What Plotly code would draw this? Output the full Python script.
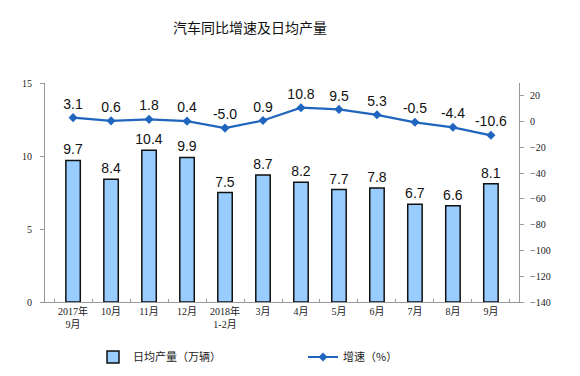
import plotly.graph_objects as go

categories = ["2017年<br>9月", "10月", "11月", "12月", "2018年<br>1-2月", "3月",
              "4月", "5月", "6月", "7月", "8月", "9月"]
daily_output = [9.7, 8.4, 10.4, 9.9, 7.5, 8.7, 8.2, 7.7, 7.8, 6.7, 6.6, 8.1]
growth = [3.1, 0.6, 1.8, 0.4, -5.0, 0.9, 10.8, 9.5, 5.3, -0.5, -4.4, -10.6]

tick_font = dict(family="Liberation Serif, Noto Sans CJK SC", size=10, color="#222")
label_font = dict(family="Arial, Liberation Sans", size=14, color="#111")

# page has an 8px body offset; figure drawn from (8,8)
OFF = 8
W, H = 580 - OFF, 376 - OFF
L, R, T, B = 45 - OFF, 61, 83 - OFF, 74
plot_w = W - L - R
plot_h = H - T - B

fig = go.Figure()
fig.add_trace(go.Bar(
    x=categories, y=daily_output, name="日均产量（万辆）",
    marker=dict(color="#99CCFF", line=dict(color="#111", width=1.5)),
    width=0.38,
    text=[f"{v:.1f}" for v in daily_output], textposition="outside",
    textfont=label_font, cliponaxis=False, constraintext="none",
))
fig.add_trace(go.Scatter(
    x=categories, y=growth, name="增速（%）", yaxis="y2",
    mode="lines+markers+text",
    line=dict(color="#2066BE", width=2.2),
    marker=dict(symbol="diamond", size=7, color="#2066BE"),
    text=[f"{v:.1f}" for v in growth], textposition="top center",
    textfont=label_font, cliponaxis=False,
))

fig.update_layout(
    width=W, height=H,
    margin=dict(l=L, r=R, t=T, b=B, autoexpand=False),
    plot_bgcolor="white", paper_bgcolor="white",
    showlegend=True,
    legend=dict(orientation="h", x=(93 - 45) / plot_w, xanchor="left",
                y=-55 / plot_h, yanchor="middle",
                font=dict(family="Noto Sans CJK SC", size=11, color="#222"),
                entrywidth=165, entrywidthmode="pixels", traceorder="normal"),
    xaxis=dict(
        showline=True, linecolor="#999", linewidth=1,
        ticks="inside", tickson="boundaries", ticklen=3, tickcolor="#999",
        tickfont=tick_font, showgrid=False, tickangle=0, automargin=False,
    ),
    yaxis=dict(
        range=[0, 15], tickvals=[0, 5, 10, 15],
        showline=True, linecolor="#999", linewidth=1,
        ticks="outside", ticklen=4, tickcolor="#999",
        tickfont=tick_font, showgrid=False, zeroline=False,
        ticklabelstandoff=6, automargin=False,
    ),
    yaxis2=dict(
        range=[-140, 30], tickvals=list(range(-140, 21, 20)),
        overlaying="y", side="right",
        showline=True, linecolor="#999", linewidth=1,
        ticks="outside", ticklen=4, tickcolor="#999",
        tickfont=tick_font, showgrid=False, zeroline=False,
        ticklabelstandoff=4, automargin=False,
    ),
    annotations=[dict(
        text="汽车同比增速及日均产量",
        x=(250 - 45) / plot_w, xref="paper", xanchor="center",
        y=(302 - 27) / plot_h, yref="paper", yanchor="middle",
        showarrow=False,
        font=dict(family="Noto Sans CJK SC", size=14, color="#111"),
    )],
)

fig.write_html("out.html")
